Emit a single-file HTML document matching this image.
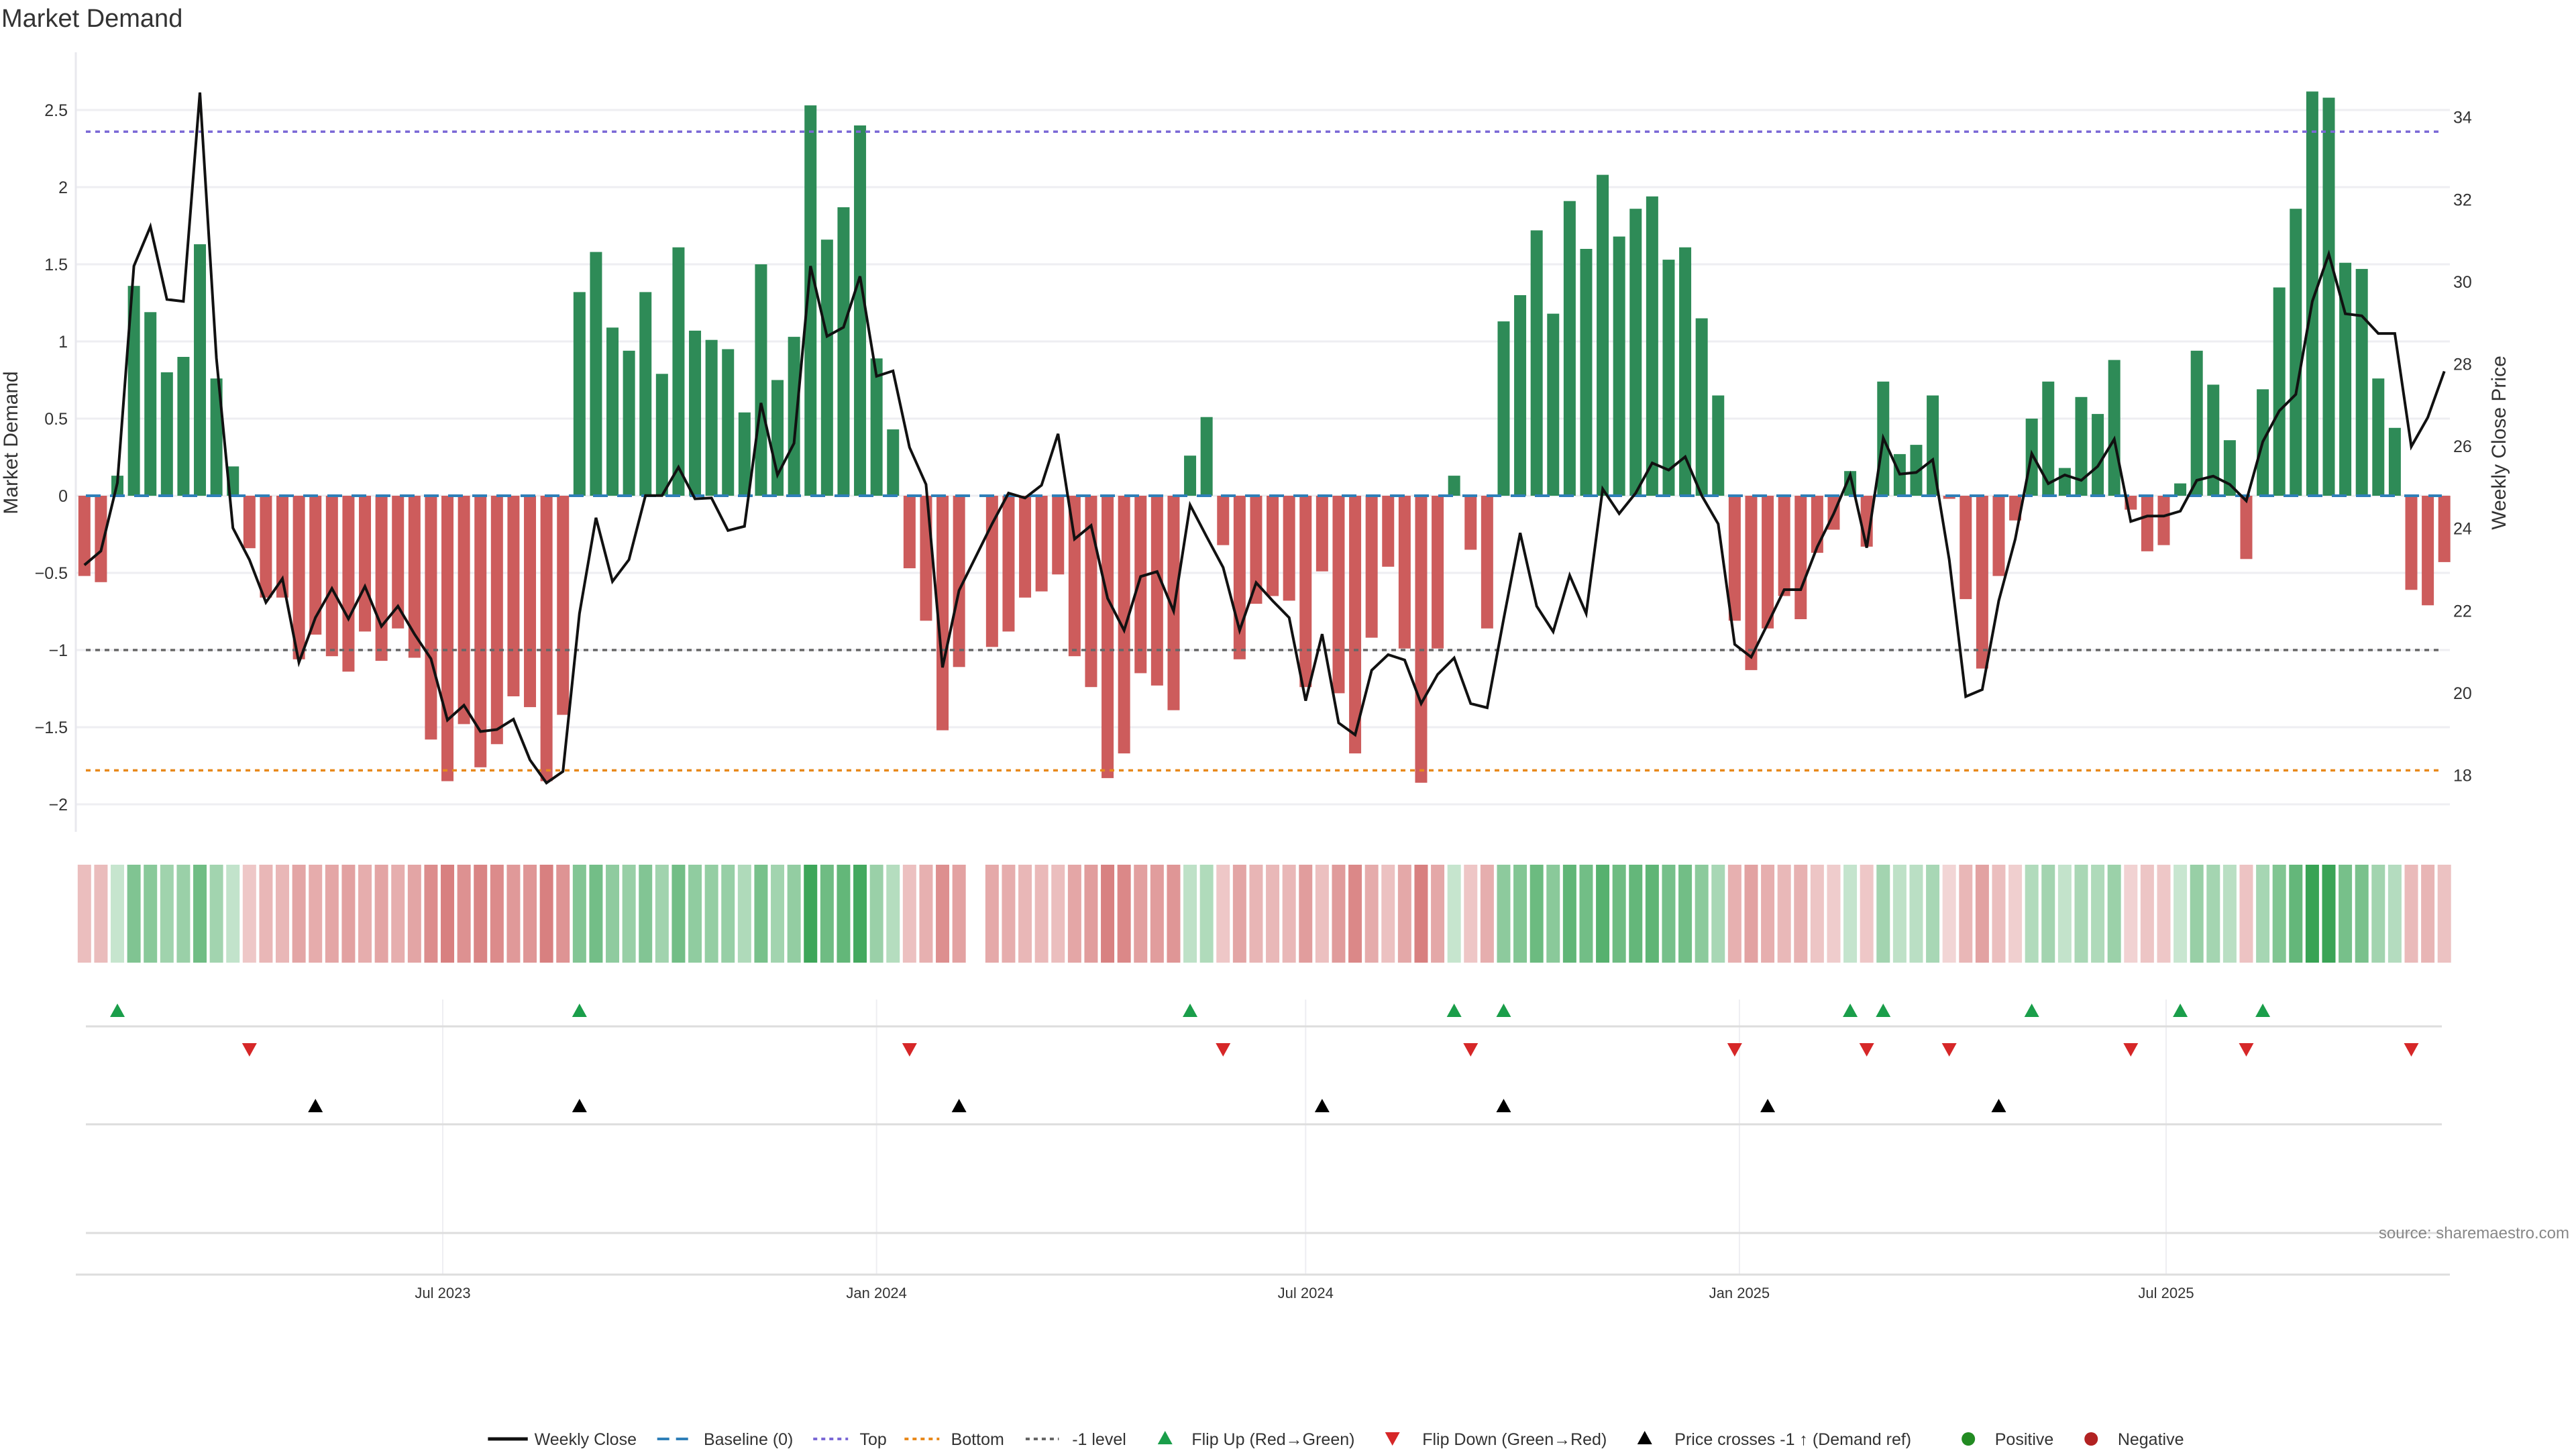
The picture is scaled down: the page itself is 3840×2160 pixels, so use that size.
<!DOCTYPE html>
<html><head><meta charset="utf-8"><style>
html,body{margin:0;padding:0;background:#fff;}
svg{display:block;font-family:"Liberation Sans","DejaVu Sans",sans-serif;}
</style></head><body>
<svg id="chart" width="3840" height="2160" viewBox="0 0 3840 2160" xmlns="http://www.w3.org/2000/svg">
<text x="2" y="40" font-size="38" fill="#333">Market Demand</text>
<g id="grid"></g><g id="bars"></g><g id="refs"></g><g id="line"></g><g id="heat"></g><g id="markers"></g><g id="axes"></g><g id="legend"></g>
<text x="3830" y="1846" font-size="24" fill="#888" text-anchor="end">source: sharemaestro.com</text>
</svg>
<script>
const demand = [-0.52,-0.56,0.13,1.36,1.19,0.80,0.90,1.63,0.76,0.19,-0.34,-0.66,-0.66,-1.06,-0.90,-1.04,-1.14,-0.88,-1.07,-0.86,-1.05,-1.58,-1.85,-1.48,-1.76,-1.61,-1.30,-1.37,-1.85,-1.42,
1.32,1.58,1.09,0.94,1.32,0.79,1.61,1.07,1.01,0.95,0.54,1.50,0.75,1.03,2.53,1.66,1.87,2.40,0.89,0.43,
-0.47,-0.81,-1.52,-1.11,null,-0.98,-0.88,-0.66,-0.62,-0.51,-1.04,-1.24,-1.83,-1.67,-1.15,-1.23,-1.39,0.26,0.51,-0.32,
-1.06,-0.70,-0.65,-0.68,-1.24,-0.49,-1.28,-1.67,-0.92,-0.46,-0.99,-1.86,-0.99,0.13,-0.35,-0.86,1.13,1.30,1.72,1.18,
1.91,1.60,2.08,1.68,1.86,1.94,1.53,1.61,1.15,0.65,-0.81,-1.13,-0.86,-0.65,-0.80,-0.37,-0.22,0.16,-0.33,0.74,
0.27,0.33,0.65,-0.02,-0.67,-1.12,-0.52,-0.16,0.50,0.74,0.18,0.64,0.53,0.88,-0.09,-0.36,-0.32,0.08,0.94,0.72,
0.36,-0.41,0.69,1.35,1.86,2.62,2.58,1.51,1.47,0.76,0.44,-0.61,-0.71,-0.43];
const price = [23.11,23.45,25.11,30.38,31.34,29.57,29.52,34.60,28.14,24.01,23.24,22.20,22.78,20.74,21.83,22.54,21.80,22.59,21.62,22.11,21.43,20.83,19.34,19.70,19.06,19.11,19.36,18.37,17.81,18.09,
21.93,24.26,22.71,23.24,24.80,24.80,25.49,24.72,24.74,23.95,24.05,27.05,25.30,26.07,30.38,28.67,28.89,30.13,27.70,27.83,
25.97,25.07,20.62,22.49,23.30,24.11,24.86,24.74,25.05,26.30,23.74,24.07,22.30,21.52,22.83,22.95,21.99,24.57,23.80,23.05,
21.52,22.68,22.24,21.83,19.81,21.43,19.27,18.98,20.55,20.93,20.80,19.74,20.45,20.85,19.74,19.64,21.80,23.89,22.11,21.49,
22.86,21.93,24.96,24.36,24.86,25.59,25.42,25.74,24.80,24.11,21.18,20.87,21.68,22.51,22.51,23.55,24.36,25.30,23.53,26.20,
25.32,25.36,25.67,23.24,19.91,20.08,22.24,23.74,25.82,25.09,25.30,25.17,25.51,26.17,24.17,24.30,24.30,24.42,25.17,25.27,
25.07,24.67,26.11,26.86,27.26,29.52,30.67,29.22,29.17,28.74,28.74,25.99,26.70,27.82];
const startDate = "2023-01-30";
const leftTicks = [2.5,2,1.5,1,0.5,0,-0.5,-1,-1.5,-2];
const rightTicks = [34,32,30,28,26,24,22,20,18];
const dateTicks = ["2023-07-01","2024-01-01","2024-07-01","2025-01-01","2025-07-01"];
const dateTickLabels = ["Jul 2023","Jan 2024","Jul 2024","Jan 2025","Jul 2025"];
const refLevels = [2.36,-1.78,-1.0];

const NS="http://www.w3.org/2000/svg";
const DAY=86400000, t0=Date.parse("2023-07-01"), pxDay=(3229-660)/731;
function xDate(s){return 660+(Date.parse(s)-t0)/DAY*pxDay;}
function xIdx(i){return 660+((Date.parse(startDate)+i*7*DAY)-t0)/DAY*pxDay;}
const Y0=739, U=230;
function yL(v){return Y0-v*U;}
function yR(p){return 174.7+(34-p)*61.3;}
function pToD(p){return (Y0-yR(p))/U;}
function mk(tag,attrs,parent,text){const e=document.createElementNS(NS,tag);for(const k in attrs)e.setAttribute(k,attrs[k]);if(text!==undefined)e.textContent=text;document.getElementById(parent).appendChild(e);return e;}
const AX_L=113, AX_R=3652;

// grid + left ticks
leftTicks.forEach(v=>{
  const g=mk('line',{x1:AX_L,x2:AX_R,y1:yL(v),y2:yL(v),stroke:'#eeeef2','stroke-width':3},'grid');
  
  
  const t=mk('text',{x:AX_L-12,y:yL(v)+9,'font-size':25,fill:'#333','text-anchor':'end'},'axes',(v<0?'\u2212'+Math.abs(v):String(v)));
  
  
});
rightTicks.forEach(p=>{
  const t=mk('text',{x:3657,y:yR(p)+9,'font-size':25,fill:'#333'},'axes',String(p));
  
  
});
let a=mk('line',{x1:AX_L,x2:AX_L,y1:78,y2:1240,stroke:'#e8e8ee','stroke-width':3},'axes');


a=mk('line',{x1:AX_L,x2:AX_R,y1:1900,y2:1900,stroke:'#ddd','stroke-width':3},'axes');


a=mk('text',{x:0,y:0,'font-size':30,fill:'#333','text-anchor':'middle',transform:'translate(26,660) rotate(-90)'},'axes','Market Demand');


a=mk('text',{x:0,y:0,'font-size':30,fill:'#333','text-anchor':'middle',transform:'translate(3735,660) rotate(-90)'},'axes','Weekly Close Price');


dateTicks.forEach((d,i)=>{
  const x=xDate(d);
  const g=mk('line',{x1:x,x2:x,y1:1490,y2:1900,stroke:'#eeeef2','stroke-width':2},'grid');
  
  
  const t=mk('text',{x:x,y:1935,'font-size':22,fill:'#333','text-anchor':'middle'},'axes',dateTickLabels[i]);
  
  
});
// panel separators
[1530,1676,1838].forEach(y=>{
  const l=mk('line',{x1:128,x2:3640,y1:y,y2:y,stroke:'#ddd','stroke-width':3},'grid');
  
  
});

// bars
const BW=18;
demand.forEach((v,i)=>{
  if(v===null)return;
  const x=xIdx(i);
  const r=mk('rect',{x:x-BW/2,y:Math.min(yL(v),Y0),width:BW,height:Math.abs(yL(v)-Y0),fill:v>=0?'#2e8b57':'#cd5c5c'},'bars');
  
  
});
// ref lines
let b=mk('line',{x1:128,x2:3640,y1:Y0,y2:Y0,stroke:'#2f7fb8','stroke-width':4,'stroke-dasharray':'22 14'},'refs');


const refCols=['#7b68d6','#e8891c','#666'];
const refNames=['top-level-line','bottom-level-line','minus-one-level-line'];
refLevels.forEach((v,i)=>{
  const l=mk('line',{x1:128,x2:3640,y1:yL(v),y2:yL(v),stroke:refCols[i],'stroke-width':3.5,'stroke-dasharray':'7 7'},'refs');
  
  
});
// price line
let d='';price.forEach((p,i)=>{d+=(i?'L':'M')+xIdx(i).toFixed(1)+' '+yR(p).toFixed(1);});
let pl=mk('path',{d:d,fill:'none',stroke:'#111','stroke-width':4,'stroke-linejoin':'miter'},'line');



// heat strip
const maxAbs=Math.max(...demand.filter(v=>v!==null).map(Math.abs));
demand.forEach((v,i)=>{
  if(v===null)return;
  const al=0.25+0.75*Math.abs(v)/maxAbs;
  const c=v>=0?'rgba(56,163,84,'+al.toFixed(3)+')':'rgba(205,92,92,'+al.toFixed(3)+')';
  const r=mk('rect',{x:xIdx(i)-10,y:1289,width:20,height:146,fill:c},'heat');
  
  
});
// markers
function tri(x,y,up,col,name){
  const s=11,h=20;
  const pts=up?`${x-s},${y+h/2} ${x+s},${y+h/2} ${x},${y-h/2}`:`${x-s},${y-h/2} ${x+s},${y-h/2} ${x},${y+h/2}`;
  const t=mk('polygon',{points:pts,fill:col},'markers');
  
  
}
let prev=null;
demand.forEach((v,i)=>{
  if(v===null)return;
  if(prev!==null){
    if(prev<0&&v>=0)tri(xIdx(i),1506,true,'#1a9e4a','flip-up-marker');
    if(prev>=0&&v<0)tri(xIdx(i),1565,false,'#d62728','flip-down-marker');
  }
  prev=v;
});
for(let i=1;i<price.length;i++){
  if(pToD(price[i-1])< -1 && pToD(price[i])>= -1)tri(xIdx(i),1648,true,'#000','price-cross-marker');
}

// legend
const L=2.474, LY=2145;
function lt(x,s,name){const t=mk('text',{x:x*L,y:LY+9,'font-size':25,fill:'#333'},'legend',s);}
function ll(x1,x2,col,dash,name,w){const l=mk('line',{x1:x1*L,x2:x2*L,y1:LY,y2:LY,stroke:col,'stroke-width':w||4,'stroke-dasharray':dash},'legend');}
ll(294,318,'#111','none','legend-weekly-close-swatch',5);lt(322,'Weekly Close','legend-weekly-close');
ll(396,417,'#2f7fb8','18 10','legend-baseline-swatch');lt(424,'Baseline (0)','legend-baseline');
ll(490,511,'#7b68d6','6 6','legend-top-swatch');lt(518,'Top','legend-top');
ll(545,566,'#e8891c','6 6','legend-bottom-swatch');lt(573,'Bottom','legend-bottom');
ll(618,638,'#666','6 6','legend-minus-one-swatch');lt(646,'-1 level','legend-minus-one');
tri(702*L,LY-2,true,'#1a9e4a','legend-flip-up-swatch');lt(718,'Flip Up (Red\u2192Green)','legend-flip-up');
tri(839*L,LY,false,'#d62728','legend-flip-down-swatch');lt(857,'Flip Down (Green\u2192Red)','legend-flip-down');
tri(991*L,LY-2,true,'#000','legend-price-cross-swatch');lt(1009,'Price crosses -1 \u2191 (Demand ref)','legend-price-cross');
let c=mk('circle',{cx:1186*L,cy:LY,r:10,fill:'#228b22'},'legend');
lt(1202,'Positive','legend-positive');
c=mk('circle',{cx:1260*L,cy:LY,r:10,fill:'#b22222'},'legend');
lt(1276,'Negative','legend-negative');
</script>
</body></html>
